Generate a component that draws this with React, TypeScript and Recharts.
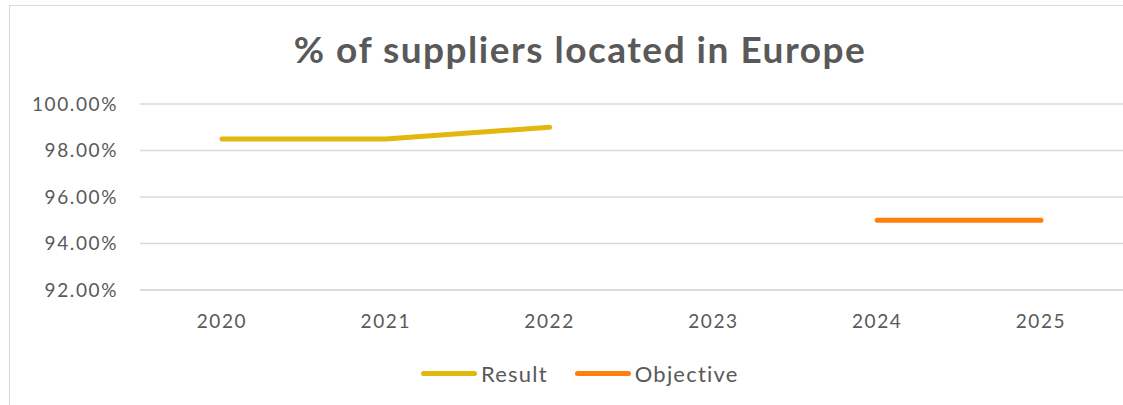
import { LineChart, Line, XAxis, YAxis, CartesianGrid } from "recharts";

const years = ["2020", "2021", "2022", "2023", "2024", "2025"];
const result = [0.985, 0.985, 0.99, null, null, null];
const objective = [null, null, null, null, 0.95, 0.95];
const yTicks = [0.92, 0.94, 0.96, 0.98, 1.0];

const data = years.map((y, i) => ({ year: y, result: result[i], objective: objective[i] }));

const font = "'Lato', 'Open Sans', sans-serif";
const gray = "#595959";
const colors = { result: "#E2B70F", objective: "#FF7F0E" };

const tickStyle = { fontSize: 19, fill: gray, fontFamily: font, letterSpacing: 1.6 };

function LegendItem({ color, label }: { color: string; label: string }) {
  return (
    <div style={{ display: "flex", alignItems: "center", gap: 4 }}>
      <span style={{ width: 56, height: 5, borderRadius: 3, background: color }} />
      <span style={{ fontSize: 22, color: gray, letterSpacing: 1.2 }}>{label}</span>
    </div>
  );
}

export default function App() {
  return (
    <div style={{ position: "fixed", left: 0, top: 0, width: 1123, height: 405, background: "#fff", fontFamily: font }}>
      <div
        style={{
          position: "absolute",
          left: 9,
          top: 5,
          right: -2,
          bottom: -2,
          border: "1px solid #d9d9d9",
        }}
      />
      <div
        style={{
          position: "absolute",
          top: 26,
          left: 0,
          width: 1160,
          textAlign: "center",
          fontSize: 37,
          fontWeight: 700,
          letterSpacing: 1.5,
          color: gray,
        }}
      >
        % of suppliers located in Europe
      </div>
      <div style={{ position: "absolute", left: 0, top: 0 }}>
        <LineChart width={1123} height={405} data={data} margin={{ top: 104, right: 0, left: 0, bottom: 85 }}>
          <CartesianGrid vertical={false} stroke="#d9d9d9" strokeWidth={1.5} />
          <XAxis
            dataKey="year"
            padding={{ left: 82, right: 82 }}
            axisLine={{ stroke: "#d9d9d9", strokeWidth: 1.5 }}
            tickLine={false}
            tickMargin={19}
            height={30}
            tick={tickStyle}
          />
          <YAxis
            domain={[0.92, 1.0]}
            ticks={yTicks}
            width={140}
            axisLine={false}
            tickLine={false}
            tickMargin={16}
            tickFormatter={(v: number) => (v * 100).toFixed(2) + "%"}
            tick={tickStyle}
          />
          <Line
            dataKey="result"
            stroke={colors.result}
            strokeWidth={5}
            strokeLinecap="round"
            dot={false}
            isAnimationActive={false}
          />
          <Line
            dataKey="objective"
            stroke={colors.objective}
            strokeWidth={5}
            strokeLinecap="round"
            dot={false}
            isAnimationActive={false}
          />
        </LineChart>
      </div>
      <div style={{ position: "absolute", left: 421, top: 360, display: "flex", gap: 27 }}>
        <LegendItem color={colors.result} label="Result" />
        <LegendItem color={colors.objective} label="Objective" />
      </div>
    </div>
  );
}
